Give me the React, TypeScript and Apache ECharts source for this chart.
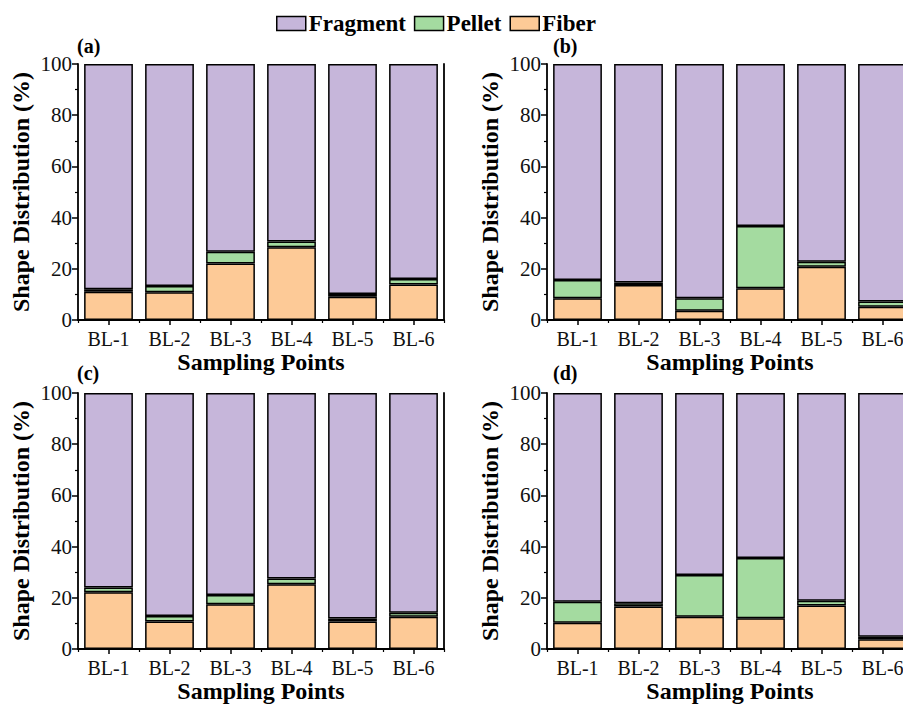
import React, { useEffect, useRef } from "react";
import * as echarts from "echarts";

// Sampling points along the x axis
const categories = ["BL-1", "BL-2", "BL-3", "BL-4", "BL-5", "BL-6"];
const yTicks = [0, 20, 40, 60, 80, 100];

// Shape distribution (%) per panel
const fiberA = [11.0, 10.8, 22.1, 28.4, 9.1, 13.9];
const pelletA = [1.0, 2.5, 4.6, 2.3, 1.1, 2.1];
const fragmentA = [88.0, 86.7, 73.3, 69.3, 89.8, 84.0];

const fiberB = [8.5, 13.7, 3.6, 12.4, 20.8, 5.2];
const pelletB = [7.1, 0.9, 4.9, 24.3, 2.0, 2.0];
const fragmentB = [84.4, 85.4, 91.5, 63.3, 77.2, 92.8];

const fiberC = [22.2, 10.7, 17.5, 25.3, 10.7, 12.6];
const pelletC = [1.8, 2.2, 3.6, 2.2, 1.2, 1.6];
const fragmentC = [76.0, 87.1, 78.9, 72.5, 88.1, 85.8];

const fiberD = [10.3, 16.6, 12.6, 12.0, 17.0, 3.8];
const pelletD = [8.2, 1.3, 16.3, 23.5, 1.8, 1.0];
const fragmentD = [81.5, 82.1, 71.1, 64.5, 81.2, 95.2];

const panelLabels = ["(a)", "(b)", "(c)", "(d)"];

const FONT = "'Liberation Serif', 'Times New Roman', serif";
const COLORS = { Fragment: "#c6b6da", Pellet: "#a4dba0", Fiber: "#fdca97" };

export default function App() {
  const ref = useRef<HTMLDivElement>(null);

  useEffect(() => {
    if (!ref.current) return;
    const chart = echarts.init(ref.current, null, { renderer: "svg" });

    const panels = [
      { fiber: fiberA, pellet: pelletA, fragment: fragmentA, left: 78, top: 64 },
      { fiber: fiberB, pellet: pelletB, fragment: fragmentB, left: 547, top: 64 },
      { fiber: fiberC, pellet: pelletC, fragment: fragmentC, left: 78, top: 393 },
      { fiber: fiberD, pellet: pelletD, fragment: fragmentD, left: 547, top: 393 },
    ];

    const grid: any[] = [];
    const xAxis: any[] = [];
    const yAxis: any[] = [];
    const series: any[] = [];
    const graphic: any[] = [];

    panels.forEach((p, i) => {
      grid.push({ left: p.left, top: p.top, width: 366, height: 256, containLabel: false });
      // main category axis with centred ticks
      xAxis.push({
        type: "category",
        gridIndex: i,
        position: "bottom",
        data: categories,
        name: "Sampling Points",
        nameLocation: "middle",
        nameGap: 28,
        nameTextStyle: { fontFamily: FONT, fontWeight: "bold", fontSize: 24, color: "#000" },
        axisLine: { show: true, lineStyle: { color: "#000", width: 1.8 } },
        axisTick: { show: true, alignWithLabel: true, length: 5, lineStyle: { color: "#000", width: 1.5 } },
        axisLabel: { fontFamily: FONT, fontSize: 20, color: "#111", margin: 9 },
      });
      // second axis carrying the short ticks between categories
      xAxis.push({
        type: "category",
        gridIndex: i,
        position: "bottom",
        data: categories,
        axisLine: { show: false },
        axisTick: { show: true, alignWithLabel: false, length: 3, lineStyle: { color: "#000", width: 1.2 } },
        axisLabel: { show: false },
      });
      yAxis.push({
        type: "value",
        gridIndex: i,
        min: 0,
        max: 100,
        interval: 20,
        position: "left",
        name: "Shape Distribution (%)",
        nameLocation: "middle",
        nameGap: 45,
        nameTextStyle: { fontFamily: FONT, fontWeight: "bold", fontSize: 24, color: "#000" },
        axisLine: { show: true, lineStyle: { color: "#000", width: 1.8 } },
        axisTick: { show: true, length: 6, lineStyle: { color: "#000", width: 1.5 } },
        minorTick: { show: true, splitNumber: 2, length: 3, lineStyle: { color: "#000", width: 1.2 } },
        splitLine: { show: false },
        axisLabel: {
          fontFamily: FONT,
          fontSize: 21,
          color: "#111",
          margin: 6,
          formatter: (v: number) => (yTicks.includes(v) ? String(v) : ""),
        },
      });
      // right-hand frame line
      yAxis.push({
        type: "value",
        gridIndex: i,
        min: 0,
        max: 100,
        position: "right",
        axisLine: { show: true, lineStyle: { color: "#000", width: 1.8 } },
        axisTick: { show: false },
        axisLabel: { show: false },
        splitLine: { show: false },
      });

      const xi = i * 2;
      const yi = i * 2;
      const stack = "s" + i;
      const mk = (name: "Fiber" | "Pellet" | "Fragment", data: number[]) => ({
        name,
        type: "bar",
        stack,
        xAxisIndex: xi,
        yAxisIndex: yi,
        barWidth: "80%",
        data,
        itemStyle: { color: COLORS[name], borderColor: "#000", borderWidth: 1.5 },
      });
      series.push(mk("Fiber", p.fiber), mk("Pellet", p.pellet), mk("Fragment", p.fragment));

      graphic.push({
        type: "text",
        left: i % 2 === 0 ? 77 : 553,
        top: i < 2 ? 36 : 363,
        style: {
          text: panelLabels[i],
          fontFamily: FONT,
          fontWeight: "bold",
          fontSize: 20,
          lineHeight: 20,
          fill: "#000",
        },
      });
    });

    chart.setOption({
      animation: false,
      backgroundColor: "#fff",
      textStyle: { fontFamily: FONT },
      legend: {
        data: ["Fragment", "Pellet", "Fiber"],
        left: 276,
        top: 12,
        padding: 0,
        icon: "rect",
        itemWidth: 29,
        itemHeight: 14,
        itemGap: 8,
        itemStyle: { borderColor: "#000", borderWidth: 1.5 },
        textStyle: {
          fontFamily: FONT,
          fontWeight: "bold",
          fontSize: 23,
          lineHeight: 20,
          color: "#000",
          padding: [0, 0, 0, -2],
        },
      },
      grid,
      xAxis,
      yAxis,
      series,
      graphic,
    });

    return () => chart.dispose();
  }, []);

  // the right-hand panels run past the page edge and are cut off there
  return (
    <div style={{ position: "fixed", left: 0, top: 0, width: 903, height: 704, overflow: "hidden", background: "#fff" }}>
      <div ref={ref} style={{ width: 920, height: 704 }} />
    </div>
  );
}
